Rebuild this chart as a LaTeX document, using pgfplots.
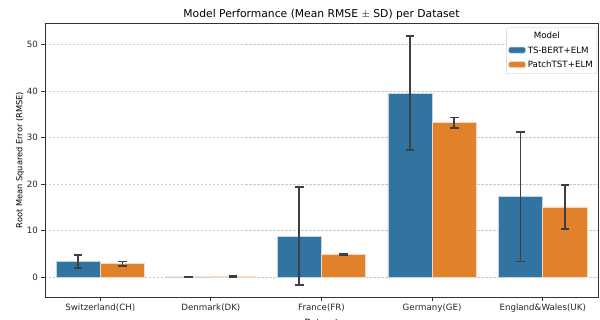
\documentclass[border=0pt]{standalone}
\usepackage{pgfplots}
\pgfplotsset{compat=1.18}
\usepackage{fontspec}
\setmainfont{DejaVu Sans}
\definecolor{sbblue}{HTML}{3274A1}
\definecolor{sborange}{HTML}{E1812C}
\definecolor{errc}{HTML}{3F3F3F}
\definecolor{spine}{HTML}{333333}
\pgfplotsset{myerr/.style={
  error bars/y dir=both, error bars/y explicit,
  error bars/error bar style={line width=1.8bp, color=errc},
  error bars/error mark options={line width=1.8bp, color=errc, mark size=4.3bp, rotate=90},
}}
\begin{document}
\begin{tikzpicture}
\begin{axis}[
  name=ax,
  scale only axis,
  width=553bp, height=274bp,
  xmin=-0.5, xmax=4.5,
  ymin=-4.3, ymax=54.6,
  xtick={0,1,2,3,4},
  xticklabels={Switzerland(CH),Denmark(DK),France(FR),Germany(GE),England\&Wales(UK)},
  ytick={0,10,20,30,40,50},
  /pgf/number format/assume math mode=true,
  tick label style={font=\fontsize{8.7}{10}\selectfont, color=black!85},
  label style={font=\fontsize{8.7}{10}\selectfont},
  ylabel style={font=\fontsize{8.3}{10}\selectfont, yshift=-4bp},
  title style={font=\fontsize{10.8}{12}\selectfont, yshift=-6bp},
  title={Model Performance (Mean RMSE $\pm$ SD) per Dataset},
  xlabel={Dataset},
  ylabel={Root Mean Squared Error (RMSE)},
  axis line style={spine, line width=0.8bp},
  tick style={spine, line width=0.8bp},
  tick align=outside,
  major tick length=3.5bp,
  xtick pos=bottom, ytick pos=left,
  ymajorgrids,
  grid style={dash pattern=on 2.5bp off 1.5bp, color=black!20, line width=0.5bp},
  ybar, bar width=0.4, bar shift=0pt,
  legend style={at={(1,1)}, anchor=north east, xshift=-1bp, yshift=-4.5bp,
    font=\fontsize{8.7}{10}\selectfont, draw=black!20, rounded corners=1.5bp,
    inner xsep=2bp, inner ysep=2.5bp, row sep=2.5bp},
  legend cell align=left,
  legend image code/.code={\fill[#1] (0bp,-2.5bp) rectangle (17bp,3.5bp);},
]
\addlegendimage{empty legend}
\addlegendentry{\hspace*{-24bp}\makebox[86bp][c]{Model}}
\addplot[fill=sbblue, draw=white!70!sbblue, line width=0.5bp, myerr] coordinates {
  (-0.2,3.3) +- (0,1.45)
  (0.8,0.05) +- (0,0.03)
  (1.8,8.8) +- (0,10.55)
  (2.8,39.5) +- (0,12.25)
  (3.8,17.3) +- (0,13.95)
};
\addlegendentry{TS-BERT+ELM}
\addplot[fill=sborange, draw=white!70!sborange, line width=0.5bp, myerr] coordinates {
  (0.2,2.9) +- (0,0.45)
  (1.2,0.1) +- (0,0.03)
  (2.2,4.8) +- (0,0.15)
  (3.2,33.2) +- (0,1.1)
  (4.2,15.1) +- (0,4.7)
};
\addlegendentry{PatchTST+ELM}
\end{axis}
\pgfresetboundingbox
\path ([shift={(-45bp,-23bp)}]ax.south west) rectangle ([shift={(2bp,23bp)}]ax.north east);
\end{tikzpicture}
\end{document}
